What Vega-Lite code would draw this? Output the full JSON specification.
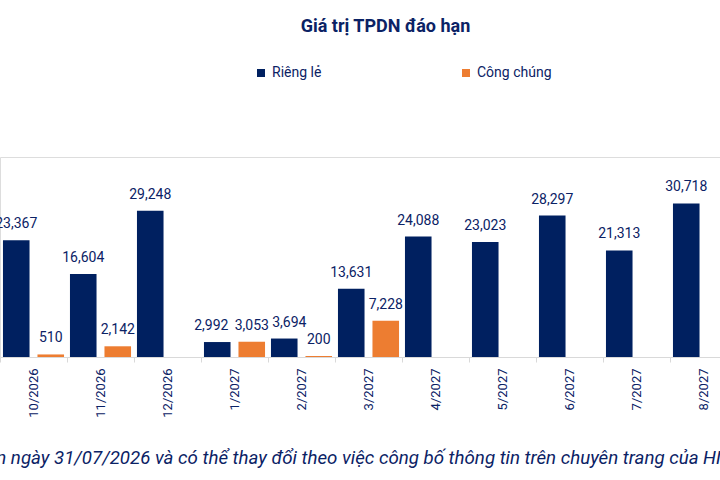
{
  "$schema": "https://vega.github.io/schema/vega-lite/v6.json",
  "width": 737,
  "height": 200,
  "autosize": {"type": "none"},
  "padding": {"left": 0, "top": 157, "right": 0, "bottom": 123},
  "title": {
    "text": "Giá trị TPDN đáo hạn",
    "font": "Roboto",
    "fontSize": 18,
    "fontWeight": "bold",
    "color": "#0b2265",
    "anchor": "middle",
    "dx": 17,
    "offset": 30
  },
  "data": {
    "values": [
      {"month": "10/2026", "type": "Riêng lẻ", "value": 23367},
      {"month": "10/2026", "type": "Công chúng", "value": 510},
      {"month": "11/2026", "type": "Riêng lẻ", "value": 16604},
      {"month": "11/2026", "type": "Công chúng", "value": 2142},
      {"month": "12/2026", "type": "Riêng lẻ", "value": 29248},
      {"month": "1/2027", "type": "Riêng lẻ", "value": 2992},
      {"month": "1/2027", "type": "Công chúng", "value": 3053},
      {"month": "2/2027", "type": "Riêng lẻ", "value": 3694},
      {"month": "2/2027", "type": "Công chúng", "value": 200},
      {"month": "3/2027", "type": "Riêng lẻ", "value": 13631},
      {"month": "3/2027", "type": "Công chúng", "value": 7228},
      {"month": "4/2027", "type": "Riêng lẻ", "value": 24088},
      {"month": "5/2027", "type": "Riêng lẻ", "value": 23023},
      {"month": "6/2027", "type": "Riêng lẻ", "value": 28297},
      {"month": "7/2027", "type": "Riêng lẻ", "value": 21313},
      {"month": "8/2027", "type": "Riêng lẻ", "value": 30718}
    ]
  },
  "encoding": {
    "x": {
      "field": "month",
      "type": "nominal",
      "sort": null,
      "scale": {"paddingInner": 0, "paddingOuter": 0},
      "axis": {
        "title": "Số liệu tính đến ngày 31/07/2026 và có thể thay đổi theo việc công bố thông tin trên chuyên trang của HNX",
        "titleFont": "Roboto",
        "titleFontStyle": "italic",
        "titleFontWeight": "normal",
        "titleFontSize": 18.7,
        "titleColor": "#0b2265",
        "titleAlign": "right",
        "titleAnchor": null,
        "titleX": 740,
        "titleY": 106,
        "titleBaseline": "alphabetic",
        "labelAngle": -90,
        "labelFont": "Roboto",
        "labelFontSize": 13,
        "labelColor": "#0b2265",
        "labelPadding": 6,
        "tickBand": "extent",
        "tickColor": "#d9d9d9",
        "tickSize": 5,
        "domainColor": "#d9d9d9"
      }
    },
    "xOffset": {
      "field": "type",
      "type": "nominal",
      "sort": ["Riêng lẻ", "Công chúng"],
      "scale": {"paddingInner": 0.23, "paddingOuter": 0.086}
    },
    "y": {
      "field": "value",
      "type": "quantitative",
      "scale": {"domain": [0, 40000]},
      "axis": null
    }
  },
  "layer": [
    {
      "mark": {"type": "bar"},
      "encoding": {
        "color": {
          "field": "type",
          "type": "nominal",
          "sort": ["Riêng lẻ", "Công chúng"],
          "scale": {"domain": ["Riêng lẻ", "Công chúng"], "range": ["#002060", "#ed7d31"]},
          "legend": {
            "title": null,
            "orient": "none",
            "direction": "horizontal",
            "legendX": 254,
            "legendY": -91,
            "symbolType": "square",
            "symbolSize": 64,
            "symbolOpacity": 1,
            "labelFont": "Roboto",
            "labelFontSize": 14,
            "labelColor": "#0b2265",
            "labelOffset": 4,
            "columnPadding": 137
          }
        }
      }
    },
    {
      "transform": [{"filter": "datum.value != 2992 && datum.value != 3694"}],
      "mark": {
        "type": "text",
        "baseline": "alphabetic",
        "dy": -12,
        "font": "Roboto",
        "fontSize": 14,
        "color": "#0b2265"
      },
      "encoding": {
        "text": {"field": "value", "type": "quantitative", "format": ","}
      }
    },
    {
      "transform": [{"filter": "datum.value == 2992"}],
      "mark": {
        "type": "text",
        "baseline": "alphabetic",
        "dy": -12,
        "dx": -6,
        "font": "Roboto",
        "fontSize": 14,
        "color": "#0b2265"
      },
      "encoding": {
        "text": {"field": "value", "type": "quantitative", "format": ","}
      }
    },
    {
      "transform": [{"filter": "datum.value == 3694"}],
      "mark": {
        "type": "text",
        "baseline": "alphabetic",
        "dy": -12,
        "dx": 5,
        "font": "Roboto",
        "fontSize": 14,
        "color": "#0b2265"
      },
      "encoding": {
        "text": {"field": "value", "type": "quantitative", "format": ","}
      }
    }
  ]
}
